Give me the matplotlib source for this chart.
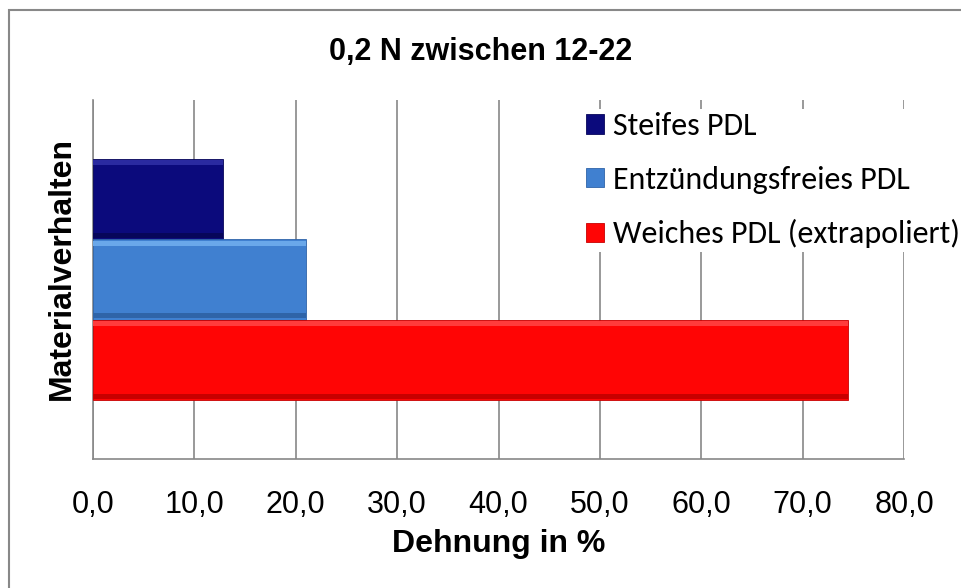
import matplotlib.pyplot as plt
from matplotlib.patches import Rectangle

series = ["Steifes PDL", "Entzündungsfreies PDL", "Weiches PDL (extrapoliert)"]
values = [12.8, 21.0, 74.5]
colors = ["#0b0a7c", "#4080d0", "#ff0505"]
light = ["#2a2aa0", "#6aa8ea", "#ff3c3c"]
dark = ["#07065a", "#2f64a8", "#c80000"]
xticks = [0, 10, 20, 30, 40, 50, 60, 70, 80]

plt.rcParams['font.family'] = ['Liberation Sans', 'DejaVu Sans']

fig = plt.figure(figsize=(9.62, 5.88), dpi=100)
ax = fig.add_axes([93 / 962, 1 - 459 / 588, 811 / 962, 359 / 588])

# outer chart frame (only top/left visible in the reference)
fig.patches.append(Rectangle((9 / 962, -0.1), 1.2, 1 - 10 / 588 + 0.1,
                             transform=fig.transFigure, fill=False,
                             edgecolor="#888888", lw=1.5))

h = 0.224
centers = [0.5 + h, 0.5, 0.5 - h]
for i in range(3):
    ax.barh(centers[i], values[i], height=h, color=colors[i], label=series[i],
            edgecolor=dark[i], linewidth=0.6, zorder=3)
    # bevel: light top strip and dark bottom strip
    ax.barh(centers[i] + h * 0.45, values[i], height=h * 0.06, color=light[i],
            linewidth=0, zorder=4)
    ax.barh(centers[i] - h * 0.45, values[i], height=h * 0.06, color=dark[i],
            linewidth=0, zorder=4)

ax.set_xlim(0, 80)
ax.set_ylim(0, 1)
ax.set_xticks(xticks)
ax.set_xticklabels([f"{v:.1f}".replace(".", ",") for v in xticks], fontsize=22)
ax.tick_params(axis="x", length=0, pad=22)
ax.set_yticks([])
ax.grid(axis="x", color="#888888", lw=1.2, zorder=0)
for s in ["top", "right"]:
    ax.spines[s].set_visible(False)
for s in ["left", "bottom"]:
    ax.spines[s].set_color("#888888")
    ax.spines[s].set_linewidth(1.2)

ax.set_xlabel("Dehnung in %", fontsize=23, fontweight="bold")
ax.xaxis.set_label_coords((499 - 93) / 811, -(529 - 459) / 359)
ax.set_ylabel("Materialverhalten", fontsize=23, fontweight="bold")
ax.yaxis.set_label_coords(-(93 - 77) / 811, (459 - 268) / 359)
fig.text(481 / 962, 1 - 52 / 588, "0,2 N zwischen 12-22",
         ha="center", va="center", fontsize=22, fontweight="bold")

leg = ax.legend(loc="upper left", bbox_to_anchor=(583 / 962, 1 - 109 / 588),
                bbox_transform=fig.transFigure, frameon=True, fancybox=False,
                edgecolor="none", framealpha=1, handlelength=0.55,
                handleheight=0.55, handletextpad=0.3, labelspacing=0.8,
                borderpad=0.1, borderaxespad=0,
                prop={"family": ["Carlito", "Open Sans", "DejaVu Sans"], "size": 23})
leg.set_zorder(10)

fig.savefig("out.png", dpi=100)
